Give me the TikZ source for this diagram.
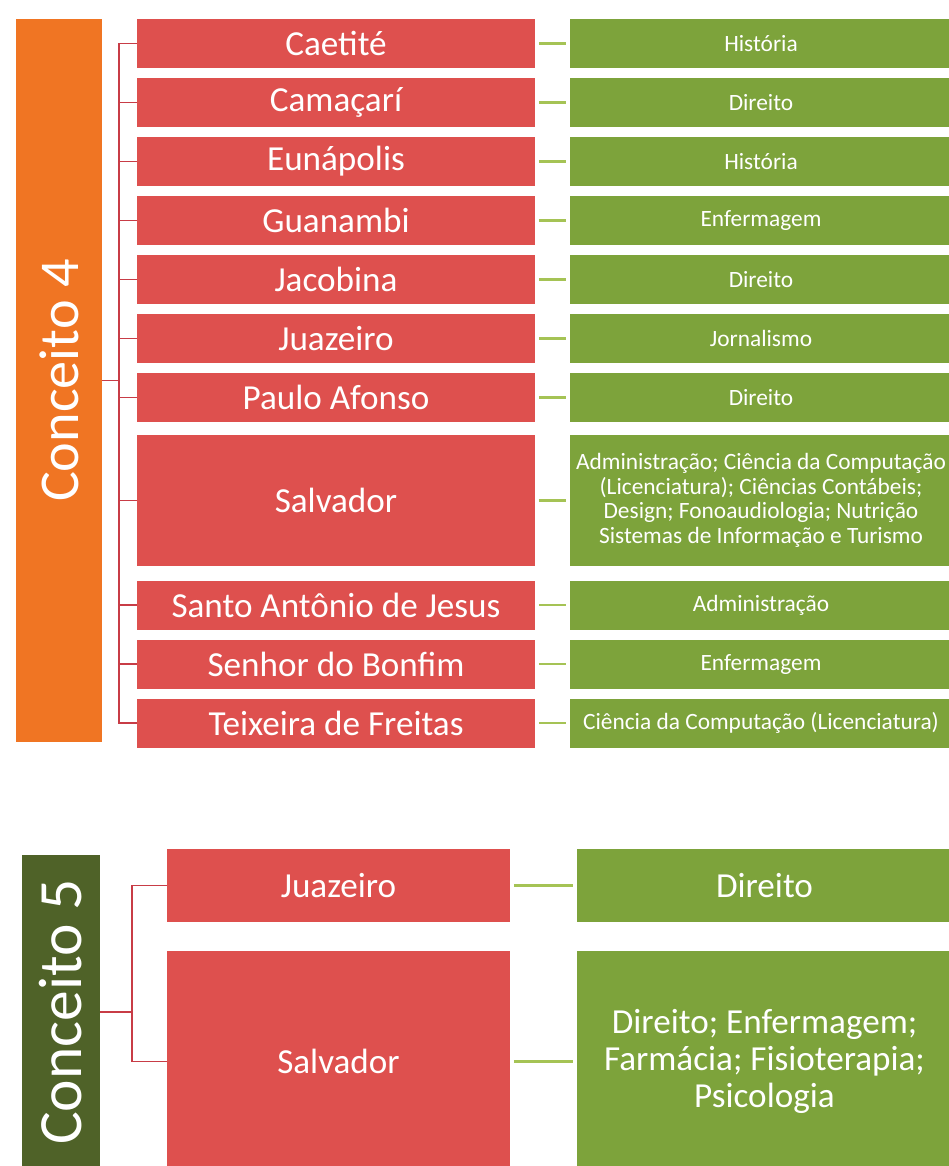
\documentclass[tikz,border=0pt]{standalone}
\usepackage{fontspec}
\setmainfont{Carlito}
\usetikzlibrary{positioning}
\definecolor{laranja}{RGB}{240,117,35}
\definecolor{vermelho}{RGB}{222,80,78}
\definecolor{verde}{RGB}{125,163,59}
\definecolor{verdeescuro}{RGB}{79,98,40}
\definecolor{ramovermelho}{RGB}{200,60,70}
\definecolor{ramoverde}{RGB}{165,195,85}

\begin{document}
\begin{tikzpicture}
		[
		x = 0.02cm, y = -0.02cm,
		cidade/.style = {fill=vermelho, text=white, inner sep=0pt, minimum width=7.96cm,
			font=\fontsize{20}{24}\selectfont},
		curso/.style = {fill=verde, text=white, inner sep=0pt, minimum width=7.64cm, align=center,
			font=\fontsize{13.3}{14}\selectfont},
		conceito/.style = {text=white, inner sep=0pt, rotate=90},
		ramo/.style = {draw=ramovermelho, line width=1.1pt},
		elo/.style = {draw=ramoverde, line width=1.4pt, shorten <=2pt, shorten >=2pt},
		]
		
		\useasboundingbox (0,0) rectangle (948,1166);
		
		\node [conceito, fill=laranja, minimum width=14.46cm, minimum height=1.72cm,
			font=\fontsize{32}{36}\selectfont] (c4) at (59,380.5) {Conceito 4};
		\draw [ramo] (c4.south) -- ++(17,0) coordinate (b4);
		
		\foreach \n/\y/\h/\cid/\cur in {
			1/43.5/0.98/{Caetité}/{História},
			2/102.5/0.98/{Camaçarí}/{Direito},
			3/161.5/0.98/{Eunápolis}/{História},
			4/220.5/0.98/{Guanambi}/{Enfermagem},
			5/279.5/0.98/{Jacobina}/{Direito},
			6/338.5/0.98/{Juazeiro}/{Jornalismo},
			7/397.5/0.98/{Paulo Afonso}/{Direito},
			8/500.5/2.62/{Salvador}/{Administração; Ciência da Computação\\(Licenciatura); Ciências Contábeis;\\Design; Fonoaudiologia; Nutrição\\Sistemas de Informação e Turismo},
			9/605/0.98/{Santo Antônio de Jesus}/{Administração},
			10/664/0.98/{Senhor do Bonfim}/{Enfermagem},
			11/723/0.98/{Teixeira de Freitas}/{Ciência da Computação (Licenciatura)}}
		{
			\node [cidade, minimum height=\h cm] (cid\n) at (336,\y) {\cid};
			\node [curso, minimum height=\h cm] (cur\n) at (761,\y) {\cur};
			\draw [ramo] (cid\n.west) -| (b4);
			\draw [elo] (cid\n.east) -- (cur\n.west);
		}
		
		\node [conceito, fill=verdeescuro, minimum width=6.3cm, minimum height=1.56cm,
			font=\fontsize{35}{40}\selectfont] (c5) at (61,1012) {Conceito 5};
		\draw [ramo] (c5.south) -- ++(32,0) coordinate (b5);
		
		\node [cidade, minimum width=6.86cm, minimum height=1.46cm] (j5) at (338.5,885.5) {Juazeiro};
		\node [cidade, minimum width=6.86cm, minimum height=4.42cm] (s5) at (338.5,1061.5) {Salvador};
		\node [curso, minimum width=7.5cm, minimum height=1.46cm,
			font=\fontsize{20}{24}\selectfont] (d5) at (764.5,885.5) {Direito};
		\node [curso, minimum width=7.5cm, minimum height=4.42cm,
			font=\fontsize{20}{21}\selectfont] (p5) at (764.5,1061.5)
			{Direito; Enfermagem;\\Farmácia; Fisioterapia;\\Psicologia};
		
		\draw [ramo] (j5.west) -| (b5);
		\draw [ramo] (s5.west) -| (b5);
		\draw [elo] (j5.east) -- (d5.west);
		\draw [elo] (s5.east) -- (p5.west);
		
		\end{tikzpicture}
\end{document}
